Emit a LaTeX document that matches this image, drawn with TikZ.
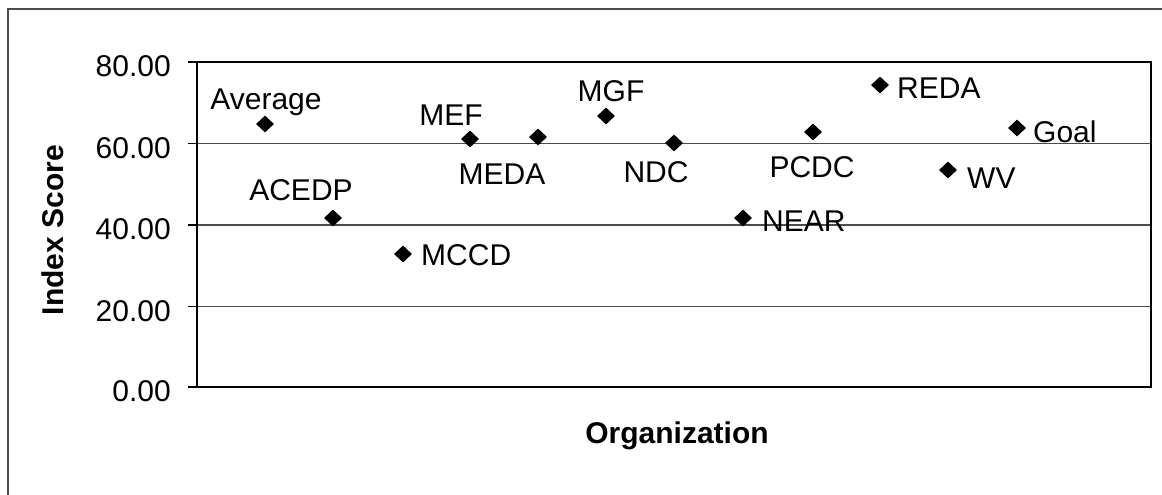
\documentclass[tikz,border=0pt]{standalone}
\usepackage{fontspec}
\setmainfont{Liberation Sans}
\usetikzlibrary{shapes.geometric}
\begin{document}
\begin{tikzpicture}[x=1pt,y=-1pt,
  lbl/.style={font=\fontsize{30}{36}\selectfont, inner sep=0pt},
  ttl/.style={font=\fontsize{30}{36}\selectfont\bfseries, inner sep=0pt},
  pt/.style={shape=diamond, fill=black, inner sep=0pt, minimum width=18pt, minimum height=17pt},
  gridln/.style={draw=black!70, line width=1.1pt},
  plotframe/.style={draw=black, line width=1.8pt},
  tickln/.style={draw=black, line width=1.1pt}]
\useasboundingbox (0,0) rectangle (1162,495);
% outer chart frame
\coordinate (oBL) at (8,495);
\coordinate (oTL) at (8,9);
\coordinate (oTR) at (1162,9);
\draw[draw=black!70, line width=1.5pt] (oBL) -- (oTL) -- (oTR);
% grid lines
\foreach \yy in {143.5,225,306.5} {
  \draw[gridln] (197,\yy) -- (1151,\yy);
}
% plot area
\draw[plotframe] (197,62) rectangle (1151,387);
% ticks and tick labels
\foreach \yy/\tx in {62/80.00,143.5/60.00,225/40.00,306.5/20.00,387/0.00} {
  \draw[tickln] (188,\yy) -- (197,\yy);
  \node[lbl, anchor=base east] at (171,\yy+14.5) {\tx};
}
% axis titles
\node[ttl, rotate=90, anchor=base] (ytitle) at (63,230) {Index Score};
\node[ttl, anchor=base] (xtitle) at (677,443) {Organization};
% data points
\node[pt] (avg)  at (265,124) {};
\node[pt] (acedp) at (333,218) {};
\node[pt] (mccd) at (403,254) {};
\node[pt] (mef)  at (470,139) {};
\node[pt] (meda) at (538,137) {};
\node[pt] (mgf)  at (606,116) {};
\node[pt] (ndc)  at (674,143) {};
\node[pt] (near) at (743,218) {};
\node[pt] (pcdc) at (813,132) {};
\node[pt] (reda) at (880,85) {};
\node[pt] (wv)   at (948,170) {};
\node[pt] (goal) at (1017,128) {};
% data labels
\node[lbl, anchor=base] (avgL) at (266,110) {Average};
\node[lbl, anchor=base] (acedpL) at (301,200) {ACEDP};
\node[lbl, anchor=base west] (mccdL) at (421,265) {MCCD};
\node[lbl, anchor=base] (mefL) at (451,125) {MEF};
\node[lbl, anchor=base] (medaL) at (502,184) {MEDA};
\node[lbl, anchor=base] (mgfL) at (611,102) {MGF};
\node[lbl, anchor=base] (ndcL) at (656,182) {NDC};
\node[lbl, anchor=base west] (nearL) at (762,231) {NEAR};
\node[lbl, anchor=base] (pcdcL) at (812,177) {PCDC};
\node[lbl, anchor=base west] (redaL) at (897,99) {REDA};
\node[lbl, anchor=base west] (wvL) at (967,188) {WV};
\node[lbl, anchor=base west] (goalL) at (1033,142) {Goal};
\end{tikzpicture}
\end{document}
